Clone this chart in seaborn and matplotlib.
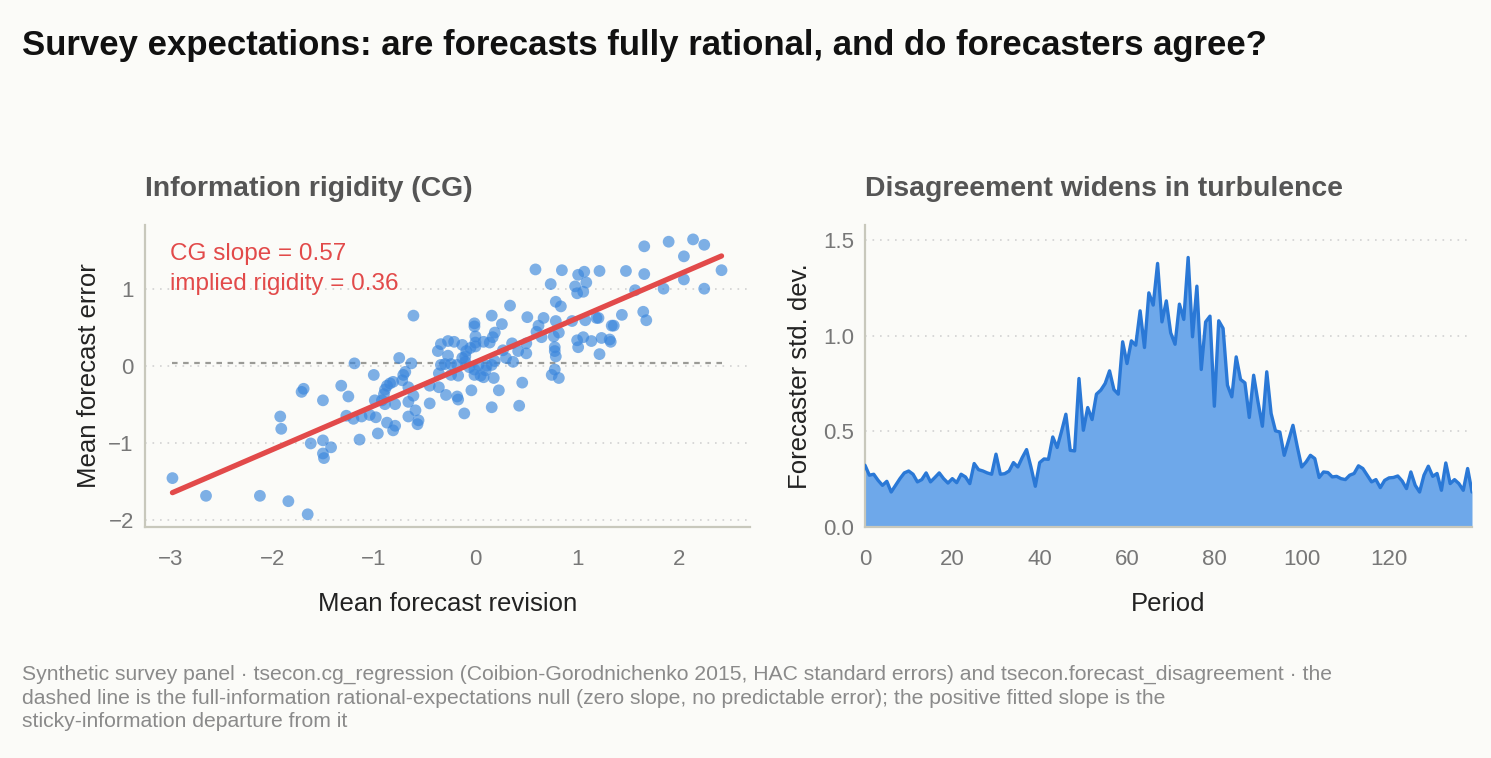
import numpy as np
import pandas as pd
import matplotlib
matplotlib.use("Agg")
import matplotlib.pyplot as plt
import seaborn as sns

# Left panel: mean forecast revision vs mean forecast error
revision = [
    -2.98, -2.65, -2.12, -1.84, -1.65, -1.92, -1.91, -1.71, -1.69, -1.62, -1.50, -1.50, -1.50, -1.49, -1.42, -1.32, -1.25,
    -1.19, -1.27, -1.20, -1.12, -1.04, -1.14, -1.00, -0.99, -0.92, -0.89, -0.98, -0.96, -0.90, -0.89, -0.87, -0.84, -0.81,
    -0.87, -0.81, -0.79, -0.79, -0.75, -0.72, -0.71, -0.69, -0.66, -0.66, -0.66, -0.63, -0.61, -0.61, -0.59, -0.56, -0.57,
    -0.01, -0.01, 0.16, 0.26, 0.34, 0.00, 0.00, 0.19, 0.17, 0.14, -0.27, -0.21, -0.13, -0.34, -0.37, -0.09, -0.05, 0.00,
    0.08, -0.27, -0.13, -0.10, -0.34, -0.30, -0.24, -0.18, -0.10, -0.06, -0.01, 0.03, 0.11, 0.10, 0.19, 0.16, 0.27, 0.30,
    -0.36, -0.24, -0.17, -0.01, 0.05, 0.08, 0.18, -0.45, -0.36, -0.29, -0.04, 0.23, -0.45, -0.18, -0.17, -0.11, 0.16,
    0.59, 0.85, 0.74, 1.01, 1.07, 1.09, 0.98, 1.00, 1.06, 1.22, 0.79, 0.84, 0.51, 0.67, 0.62, 0.60, 0.65,
    0.79, 0.82, 0.77, 0.95, 1.08, 1.19, 1.21, 0.36, 0.50, 0.50, 0.42, 0.37, 0.78, 0.78, 0.79,
    1.00, 1.01, 1.06, 1.14, 0.78, 0.75, 0.82, 0.46, 0.43,
    1.48, 1.66, 1.66, 1.90, 2.14, 2.25, 2.05, 2.42, 2.05, 2.25, 1.85, 1.57, 1.44, 1.65, 1.68, 1.34, 1.36, 1.24, 1.32,
    1.33, 1.22,
]
error = [
    -1.46, -1.69, -1.69, -1.76, -1.93, -0.66, -0.82, -0.34, -0.30, -1.01, -0.45, -0.97, -1.14, -1.20, -1.06, -0.26, -0.40,
    0.03, -0.65, -0.69, -0.66, -0.64, -0.96, -0.12, -0.45, -0.45, -0.50, -0.67, -0.88, -0.37, -0.31, -0.26, -0.23, -0.21,
    -0.74, -0.84, -0.78, -0.50, 0.10, -0.19, -0.12, -0.08, -0.28, -0.47, -0.66, 0.03, 0.65, -0.39, -0.58, -0.71, -0.76,
    0.55, 0.51, 0.65, 0.54, 0.78, 0.38, 0.30, 0.43, 0.37, 0.30, 0.32, 0.31, 0.27, 0.28, 0.19, 0.19, 0.23, 0.25,
    0.31, 0.13, 0.10, 0.12, 0.01, 0.02, 0.02, 0.01, 0.05, -0.02, -0.05, 0.01, 0.00, -0.06, 0.06, 0.01, 0.20, 0.10,
    -0.10, -0.12, -0.13, -0.12, -0.13, -0.15, -0.16, -0.26, -0.28, -0.38, -0.32, -0.32, -0.49, -0.40, -0.44, -0.62, -0.54,
    1.25, 1.24, 1.06, 1.18, 1.22, 1.08, 1.03, 0.94, 0.96, 1.23, 0.83, 0.77, 0.63, 0.62, 0.52, 0.44, 0.37,
    0.58, 0.43, 0.38, 0.58, 0.59, 0.62, 0.62, 0.29, 0.29, 0.16, 0.19, 0.05, 0.24, 0.19, 0.12,
    0.33, 0.24, 0.37, 0.32, -0.05, -0.12, -0.16, -0.22, -0.52,
    1.23, 1.55, 1.19, 1.61, 1.64, 1.57, 1.42, 1.24, 1.12, 1.00, 1.00, 0.98, 0.66, 0.70, 0.59, 0.52, 0.52, 0.36, 0.34,
    0.31, 0.15,
]

# Right panel: cross-sectional std. dev. of forecasts, one value per period
disagreement = [
    0.323, 0.271, 0.276, 0.244, 0.218, 0.239, 0.183, 0.218, 0.253, 0.283, 0.293, 0.276, 0.236, 0.248, 0.283, 0.236,
    0.259, 0.283, 0.253, 0.230, 0.253, 0.232, 0.276, 0.262, 0.227, 0.332, 0.300, 0.293, 0.283, 0.276, 0.381, 0.276,
    0.279, 0.293, 0.337, 0.314, 0.363, 0.405, 0.314, 0.213, 0.337, 0.356, 0.354, 0.471, 0.416, 0.500, 0.590, 0.401,
    0.398, 0.777, 0.506, 0.625, 0.562, 0.695, 0.716, 0.751, 0.817, 0.719, 0.695, 0.969, 0.855, 0.974, 0.951, 1.131,
    0.939, 1.225, 1.161, 1.379, 1.073, 1.183, 1.016, 0.956, 1.166, 1.086, 1.410, 0.995, 1.260, 0.824, 1.073, 1.103,
    0.632, 1.079, 1.039, 0.742, 0.681, 0.890, 0.772, 0.754, 0.573, 0.794, 0.654, 0.527, 0.812, 0.594, 0.503, 0.497,
    0.375, 0.454, 0.532, 0.419, 0.314, 0.340, 0.375, 0.358, 0.259, 0.288, 0.285, 0.262, 0.265, 0.253, 0.248, 0.271,
    0.280, 0.320, 0.306, 0.271, 0.236, 0.248, 0.206, 0.244, 0.257, 0.259, 0.267, 0.241, 0.201, 0.288, 0.218, 0.183,
    0.271, 0.318, 0.265, 0.280, 0.192, 0.335, 0.227, 0.248, 0.227, 0.192, 0.306, 0.183,
]
period = list(range(len(disagreement)))

cg_slope = 0.57
rigidity = 0.36
null_level = 0.03  # dashed FIRE null line

title = "Survey expectations: are forecasts fully rational, and do forecasters agree?"
footer = ("Synthetic survey panel \u00b7 tsecon.cg_regression (Coibion-Gorodnichenko 2015, HAC standard errors) "
          "and tsecon.forecast_disagreement \u00b7 the\n"
          "dashed line is the full-information rational-expectations null (zero slope, no predictable error); "
          "the positive fitted slope is the\n"
          "sticky-information departure from it")

bg = "#fbfbf8"
red = "#e24a4a"
blue = "#3a86dc"
spine_c = "#c8c8bc"

sns.set_theme(style="white")
plt.rcParams["font.family"] = ["Liberation Sans", "DejaVu Sans"]
plt.rcParams["axes.unicode_minus"] = True

fig = plt.figure(figsize=(14.91, 7.58), dpi=100, facecolor=bg)
W, H = 1491, 758
ax1 = fig.add_axes([145 / W, 1 - 527 / H, 605 / W, 302 / H])
ax2 = fig.add_axes([865 / W, 1 - 527 / H, 607 / W, 302 / H])

df = pd.DataFrame({"revision": revision, "error": error})

# left: CG regression scatter
sns.scatterplot(data=df, x="revision", y="error", ax=ax1, color=blue, alpha=0.65,
                s=72, edgecolor="none", linewidth=0, zorder=3)
ax1.hlines(null_level, min(revision), max(revision), colors="#9a9a96",
           linestyles=(0, (2.5, 2.5)), lw=1.6, zorder=2)
sns.regplot(data=df, x="revision", y="error", ax=ax1, scatter=False, ci=None,
            line_kws=dict(color=red, lw=3.8, zorder=4, solid_capstyle="round"))
ax1.text(0.041, 0.94, f"CG slope = {cg_slope:.2f}\nimplied rigidity = {rigidity:.2f}",
         transform=ax1.transAxes, va="top", ha="left", color=red, fontsize=17.5, linespacing=1.45)
ax1.set_xlim(-3.25, 2.70)
ax1.set_ylim(-2.095, 1.827)
ax1.set_xticks([-3, -2, -1, 0, 1, 2])
ax1.set_yticks([-2, -1, 0, 1])
ax1.set_xlabel("Mean forecast revision", fontsize=18.5, color="#222", labelpad=16)
ax1.set_ylabel("Mean forecast error", fontsize=18.5, color="#222", labelpad=5)
ax1.set_title("Information rigidity (CG)", loc="left", fontsize=20.4, fontweight="bold",
              color="#555", pad=21)

# right: disagreement over time
ax2.fill_between(period, disagreement, 0, color="#6ea8ea", lw=0, zorder=2)
sns.lineplot(x=period, y=disagreement, ax=ax2, color="#2a78d6", lw=2.4, zorder=3)
ax2.set_xlim(0, len(disagreement) - 1)
ax2.set_ylim(0, 1.58)
ax2.set_xticks([0, 20, 40, 60, 80, 100, 120])
ax2.set_yticks([0.0, 0.5, 1.0, 1.5])
ax2.set_xlabel("Period", fontsize=18.5, color="#222", labelpad=16)
ax2.set_ylabel("Forecaster std. dev.", fontsize=18.5, color="#222", labelpad=8)
ax2.set_title("Disagreement widens in turbulence", loc="left", fontsize=20.4, fontweight="bold",
              color="#555", pad=21)

for ax in (ax1, ax2):
    ax.set_facecolor(bg)
    for s in ("top", "right"):
        ax.spines[s].set_visible(False)
    for s in ("left", "bottom"):
        ax.spines[s].set_color(spine_c)
        ax.spines[s].set_linewidth(1.6)
    ax.yaxis.grid(True, linestyle=(0, (1, 3.5)), color="#d2d2d2", lw=1.2, zorder=0)
    ax.xaxis.grid(False)
    ax.set_axisbelow(True)
    ax.tick_params(axis="x", length=6, width=1.5, color=spine_c, labelsize=16, labelcolor="#777", pad=10)
    ax.tick_params(axis="y", length=0, labelsize=16, labelcolor="#777", pad=8)

fig.text(22 / W, 1 - 46 / H, title, fontsize=25, fontweight="bold", va="center", ha="left", color="#111")
fig.text(22 / W, 1 - 665 / H, footer, fontsize=15.2, color="#8a8a8a", va="top", ha="left", linespacing=1.3)

fig.savefig("out.png", dpi=100, facecolor=bg)
